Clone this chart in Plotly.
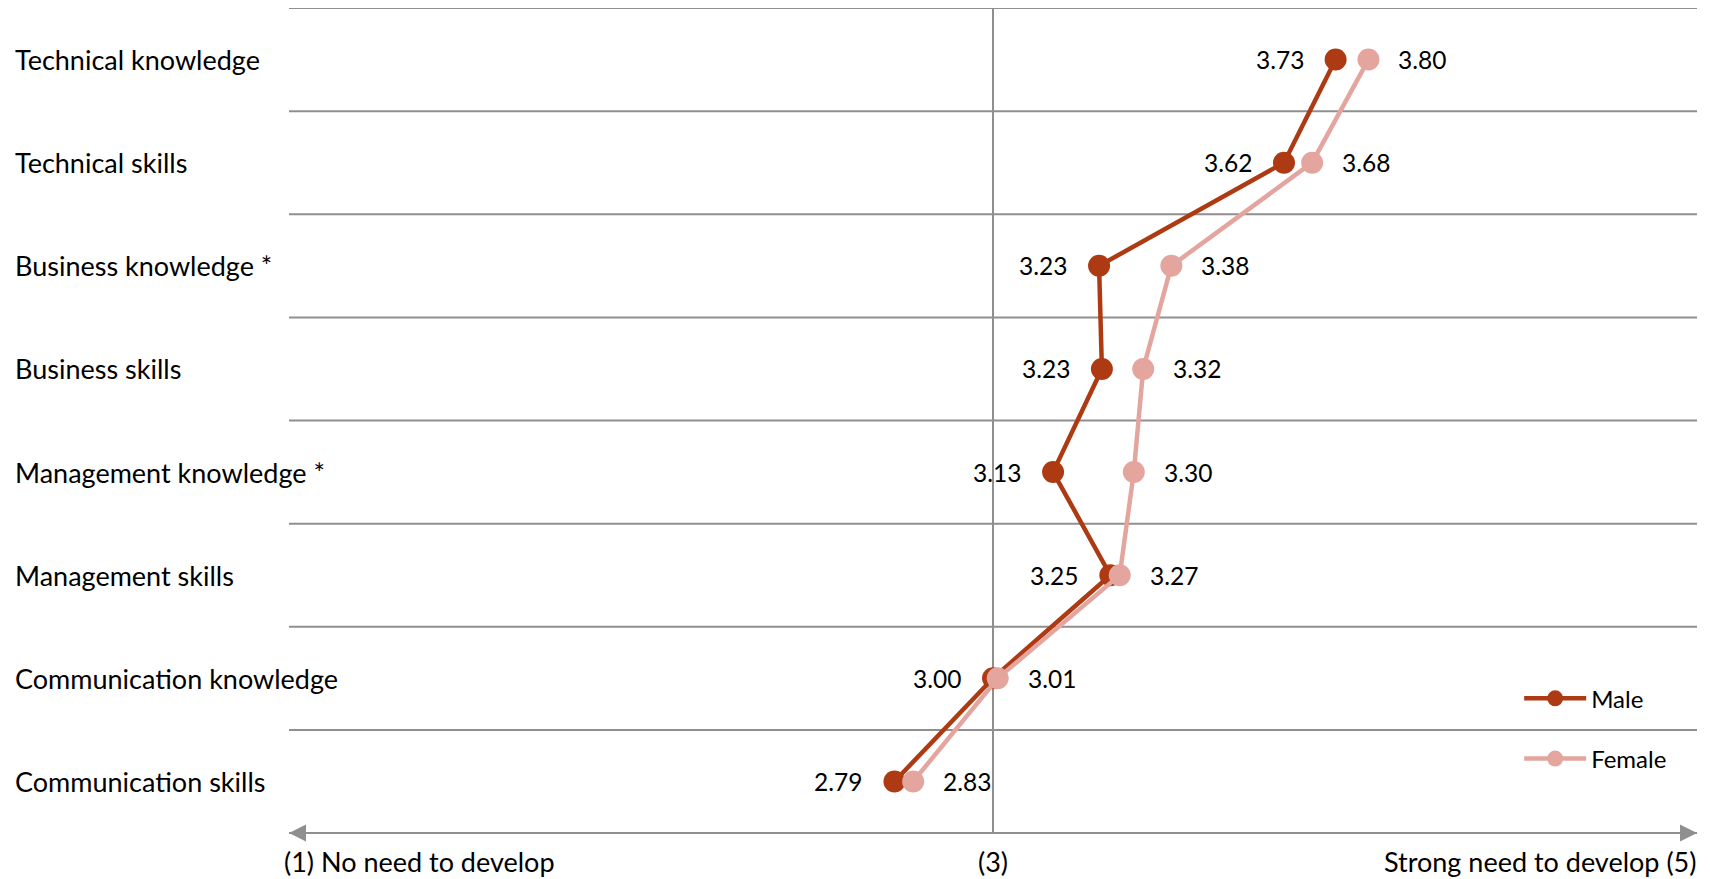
import plotly.graph_objects as go

categories = [
    "Technical knowledge",
    "Technical skills",
    "Business knowledge *",
    "Business skills",
    "Management knowledge *",
    "Management skills",
    "Communication knowledge",
    "Communication skills",
]
male = [3.73, 3.62, 3.226, 3.232, 3.128, 3.25, 3.00, 2.79]
female = [3.80, 3.68, 3.38, 3.32, 3.30, 3.27, 3.01, 2.83]
series_names = ["Male", "Female"]
series_colors = ["#AD3A13", "#E5A59F"]
axis_labels = ["(1) No need to develop", "(3)", "Strong need to develop (5)"]

FONT = "Lato"
GRID = "#8f8f8f"
W, H = 1710, 879
ML, MR, MT, MB = 289, 13, 8, 46

ypos = list(range(len(categories)))

fig = go.Figure()
for name, vals, col in zip(series_names, [male, female], series_colors):
    fig.add_trace(go.Scatter(
        x=vals, y=ypos, mode="lines+markers", name=name, legendgroup=name,
        line=dict(color=col, width=4.5),
        marker=dict(size=22, color=col),
        hoverinfo="skip",
    ))

shapes = []
for k in range(len(categories)):
    shapes.append(dict(type="line", xref="x domain", yref="y", x0=0, x1=1,
                       y0=k - 0.5, y1=k - 0.5, line=dict(color=GRID, width=2), layer="below"))
shapes.append(dict(type="line", xref="x", yref="y domain", x0=3, x1=3, y0=0, y1=1,
                   line=dict(color=GRID, width=2), layer="below"))
shapes.append(dict(type="line", xref="x domain", yref="y domain", x0=0, x1=1, y0=0, y1=0,
                   line=dict(color=GRID, width=2), layer="below"))

ann = []
# category labels
for k, c in enumerate(categories):
    ann.append(dict(x=0, xref="paper", xshift=13 - ML, y=k, yref="y", text=c,
                    showarrow=False, xanchor="left", yanchor="middle",
                    font=dict(family=FONT, size=27, color="black")))
# data labels
for k in ypos:
    ann.append(dict(x=male[k], y=k, xref="x", yref="y", text=f"{male[k]:.2f}",
                    showarrow=False, xanchor="right", yanchor="middle", xshift=-30,
                    font=dict(family=FONT, size=24.5, color="black")))
    ann.append(dict(x=female[k], y=k, xref="x", yref="y", text=f"{female[k]:.2f}",
                    showarrow=False, xanchor="left", yanchor="middle", xshift=28,
                    font=dict(family=FONT, size=24.5, color="black")))
# arrow heads
ann.append(dict(x=1, y=0, xref="x domain", yref="y domain", ax=-40, ay=0, axref="pixel", ayref="pixel",
                text="", showarrow=True, arrowhead=2, arrowsize=1.7, arrowwidth=2, arrowcolor=GRID))
ann.append(dict(x=0, y=0, xref="x domain", yref="y domain", ax=40, ay=0, axref="pixel", ayref="pixel",
                text="", showarrow=True, arrowhead=2, arrowsize=1.7, arrowwidth=2, arrowcolor=GRID))
# bottom axis labels
for txt, xv, xr, anc, xs in [(axis_labels[0], 0, "x domain", "left", -6),
                             (axis_labels[1], 3, "x", "center", 0),
                             (axis_labels[2], 1, "x domain", "right", 0)]:
    ann.append(dict(x=xv, y=0, xref=xr, yref="y domain", yshift=-28, xshift=xs, text=txt,
                    showarrow=False, xanchor=anc, yanchor="middle", borderpad=0,
                    font=dict(family=FONT, size=27, color="black")))

fig.update_layout(
    width=W, height=H,
    margin=dict(l=ML, r=MR, t=MT, b=MB),
    paper_bgcolor="white", plot_bgcolor="white",
    xaxis=dict(range=[1.5, 4.5], visible=False),
    yaxis=dict(range=[7.5, -0.5], visible=False),
    shapes=shapes, annotations=ann,
    showlegend=True,
    legend=dict(x=0.8737, y=0.19, xanchor="left", yanchor="top", font=dict(family=FONT, size=24, color="black"),
                itemwidth=62, tracegroupgap=26, bgcolor="rgba(0,0,0,0)"),
)

fig.write_html("out.html")
